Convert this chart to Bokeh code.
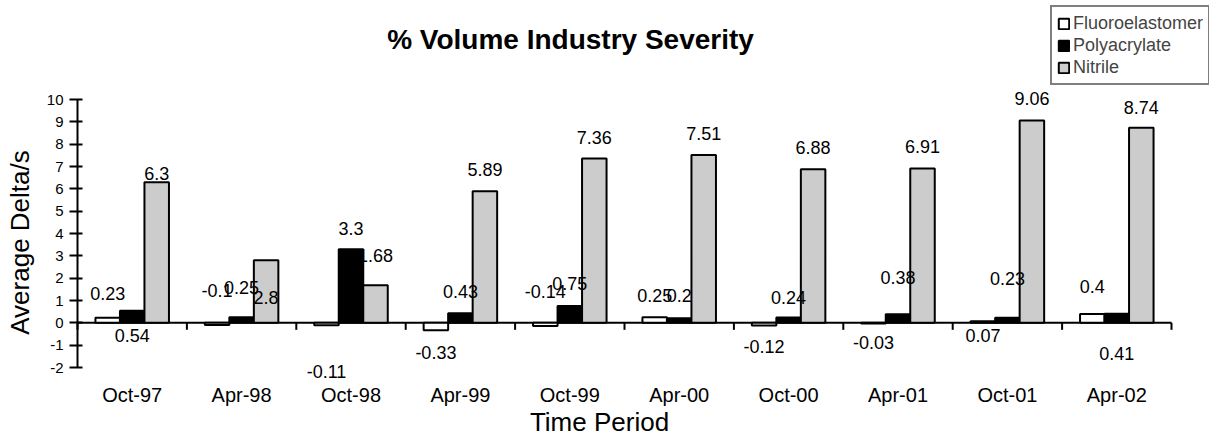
from math import pi
from bokeh.plotting import figure
from bokeh.models import (ColumnDataSource, Range1d, Legend, LegendItem,
                          FixedTicker, Label)
from bokeh.transform import dodge
from bokeh.core.properties import value
from bokeh.embed import file_html
from bokeh.resources import INLINE

# ---------------- data ----------------
periods = ["Oct-97", "Apr-98", "Oct-98", "Apr-99", "Oct-99",
           "Apr-00", "Oct-00", "Apr-01", "Oct-01", "Apr-02"]
fluoroelastomer = [0.23, -0.1, -0.11, -0.33, -0.14, 0.25, -0.12, -0.03, 0.07, 0.4]
polyacrylate = [0.54, 0.25, 3.3, 0.43, 0.75, 0.2, 0.24, 0.38, 0.23, 0.41]
nitrile = [6.3, 2.8, 1.68, 5.89, 7.36, 7.51, 6.88, 6.91, 9.06, 8.74]
y_ticks = list(range(-2, 11))
y_axis_bounds = (-2, 10)

# where each data label sits (data units, as placed in the original chart)
fluoro_label_y = [1.33, 1.46, -2.16, -1.31, 1.42, 1.24, -1.04, -0.90, -0.55, 1.64]
poly_label_y = [-0.55, 1.60, 4.24, 1.42, 1.78, 1.24, 1.15, 2.02, 1.97, -1.36]
nitrile_label_y = [6.70, 1.15, 3.02, 6.88, 8.31, 8.49, 7.86, 7.90, 10.06, 9.65]

FONT = "Liberation Sans"
W = 0.224            # bar width (fraction of a category)
WIDTH, H = 1209, 436
AXIS_X = 77          # pixel column of the value axis
ROW_10 = 99          # pixel row of y = 10
ROW_M2 = 367         # pixel row of y = -2
PX_PER_UNIT = (ROW_M2 - ROW_10) / 12.0
Y_TOP = 10 + ROW_10 / PX_PER_UNIT
Y_BOT = -2 - (H - ROW_M2) / PX_PER_UNIT
n = len(periods)
CAT_PX = 1094 / n
X_START = -AXIS_X / CAT_PX
X_END = X_START + WIDTH / CAT_PX


def px_x(px):
    return X_START + px / CAT_PX


def px_y(py):
    return Y_TOP - py / PX_PER_UNIT


centers = [i + 0.5 for i in range(n)]
bounds = list(range(n + 1))

src = ColumnDataSource(dict(
    xc=centers,
    fluoro=fluoroelastomer, poly=polyacrylate, nitrile=nitrile,
    fl_y=fluoro_label_y, po_y=poly_label_y, ni_y=nitrile_label_y,
    fl_t=[f"{v:g}" for v in fluoroelastomer],
    po_t=[f"{v:g}" for v in polyacrylate],
    ni_t=[f"{v:g}" for v in nitrile],
))

p = figure(width=WIDTH, height=H, title=None,
           x_range=Range1d(X_START, X_END), y_range=Range1d(Y_BOT, Y_TOP),
           output_backend="svg", toolbar_location=None,
           min_border_left=0, min_border_right=0,
           min_border_top=0, min_border_bottom=0)

p.outline_line_color = None
p.xgrid.grid_line_color = None
p.ygrid.grid_line_color = None
p.background_fill_color = "white"
p.border_fill_color = "white"

# x axis: category labels drawn below the -2 line
xa = p.xaxis[0]
xa.fixed_location = -2
xa.ticker = FixedTicker(ticks=centers)
xa.major_label_overrides = {c: lab for c, lab in zip(centers, periods)}
xa.axis_line_color = None
xa.major_tick_line_color = None
xa.minor_tick_line_color = None
xa.major_tick_out = 0
xa.major_tick_in = 0
xa.major_label_text_font = FONT
xa.major_label_text_font_size = "20px"
xa.major_label_text_color = "black"
xa.major_label_standoff = 16

# y axis at x = 0 (left edge of the categories)
ya = p.yaxis[0]
ya.fixed_location = 0
ya.ticker = FixedTicker(ticks=y_ticks)
ya.major_label_overrides = {t: str(t) for t in y_ticks}
ya.bounds = y_axis_bounds
ya.minor_tick_line_color = None
ya.major_tick_in = 5
ya.major_tick_out = 8
ya.axis_line_width = 2
ya.major_tick_line_width = 2
ya.axis_line_color = "black"
ya.major_tick_line_color = "black"
ya.major_label_text_font = FONT
ya.major_label_text_font_size = "15px"
ya.major_label_text_color = "black"
ya.major_label_standoff = 6

# zero line and category tick marks
p.segment(x0=[bounds[0]], x1=[bounds[-1]], y0=[0], y1=[0],
          line_color="black", line_width=2)
p.ray(x=bounds, y=[0] * len(bounds), length=7, length_units="screen",
      angle=-pi / 2, line_color="black", line_width=2)

# bars
r1 = p.vbar(x=dodge("xc", -W), top="fluoro", bottom=0, width=W,
            fill_color="white", line_color="black", line_width=2, source=src)
r2 = p.vbar(x=dodge("xc", 0), top="poly", bottom=0, width=W,
            fill_color="black", line_color="black", line_width=2, source=src)
r3 = p.vbar(x=dodge("xc", W), top="nitrile", bottom=0, width=W,
            fill_color="#CCCCCC", line_color="black", line_width=2, source=src)

# data labels
for off, ycol, tcol in [(-W, "fl_y", "fl_t"), (0, "po_y", "po_t"), (W, "ni_y", "ni_t")]:
    p.text(x=dodge("xc", off), y=ycol, text=tcol,
           text_align="center", text_baseline="middle",
           text_font=value(FONT), text_font_size=value("18px"),
           text_color="black", source=src)

# chart title and axis titles
p.add_layout(Label(x=px_x(570), y=px_y(39),
                   text="% Volume Industry Severity",
                   text_align="center", text_baseline="alphabetic",
                   text_font=FONT, text_font_size="28px", text_font_style="bold",
                   text_color="black"))
p.add_layout(Label(x=px_x(599), y=px_y(421), text="Time Period",
                   text_align="center", text_baseline="middle",
                   text_font=FONT, text_font_size="26px", text_color="black"))
p.add_layout(Label(x=px_x(19), y=px_y(242), text="Average Delta/s", angle=pi / 2,
                   text_align="center", text_baseline="middle",
                   text_font=FONT, text_font_size="26px", text_color="black"))

legend = Legend(items=[LegendItem(label="Fluoroelastomer", renderers=[r1]),
                       LegendItem(label="Polyacrylate", renderers=[r2]),
                       LegendItem(label="Nitrile", renderers=[r3])],
                location=(1050, H - 85), padding=5, spacing=0, margin=0,
                glyph_width=13, glyph_height=13, label_standoff=3,
                label_width=120, label_height=22,
                label_text_font=FONT, label_text_font_size="18px",
                border_line_color="black", border_line_width=2,
                background_fill_color="white", background_fill_alpha=1)
p.add_layout(legend)

open("out.html", "w").write(file_html(p, INLINE))
